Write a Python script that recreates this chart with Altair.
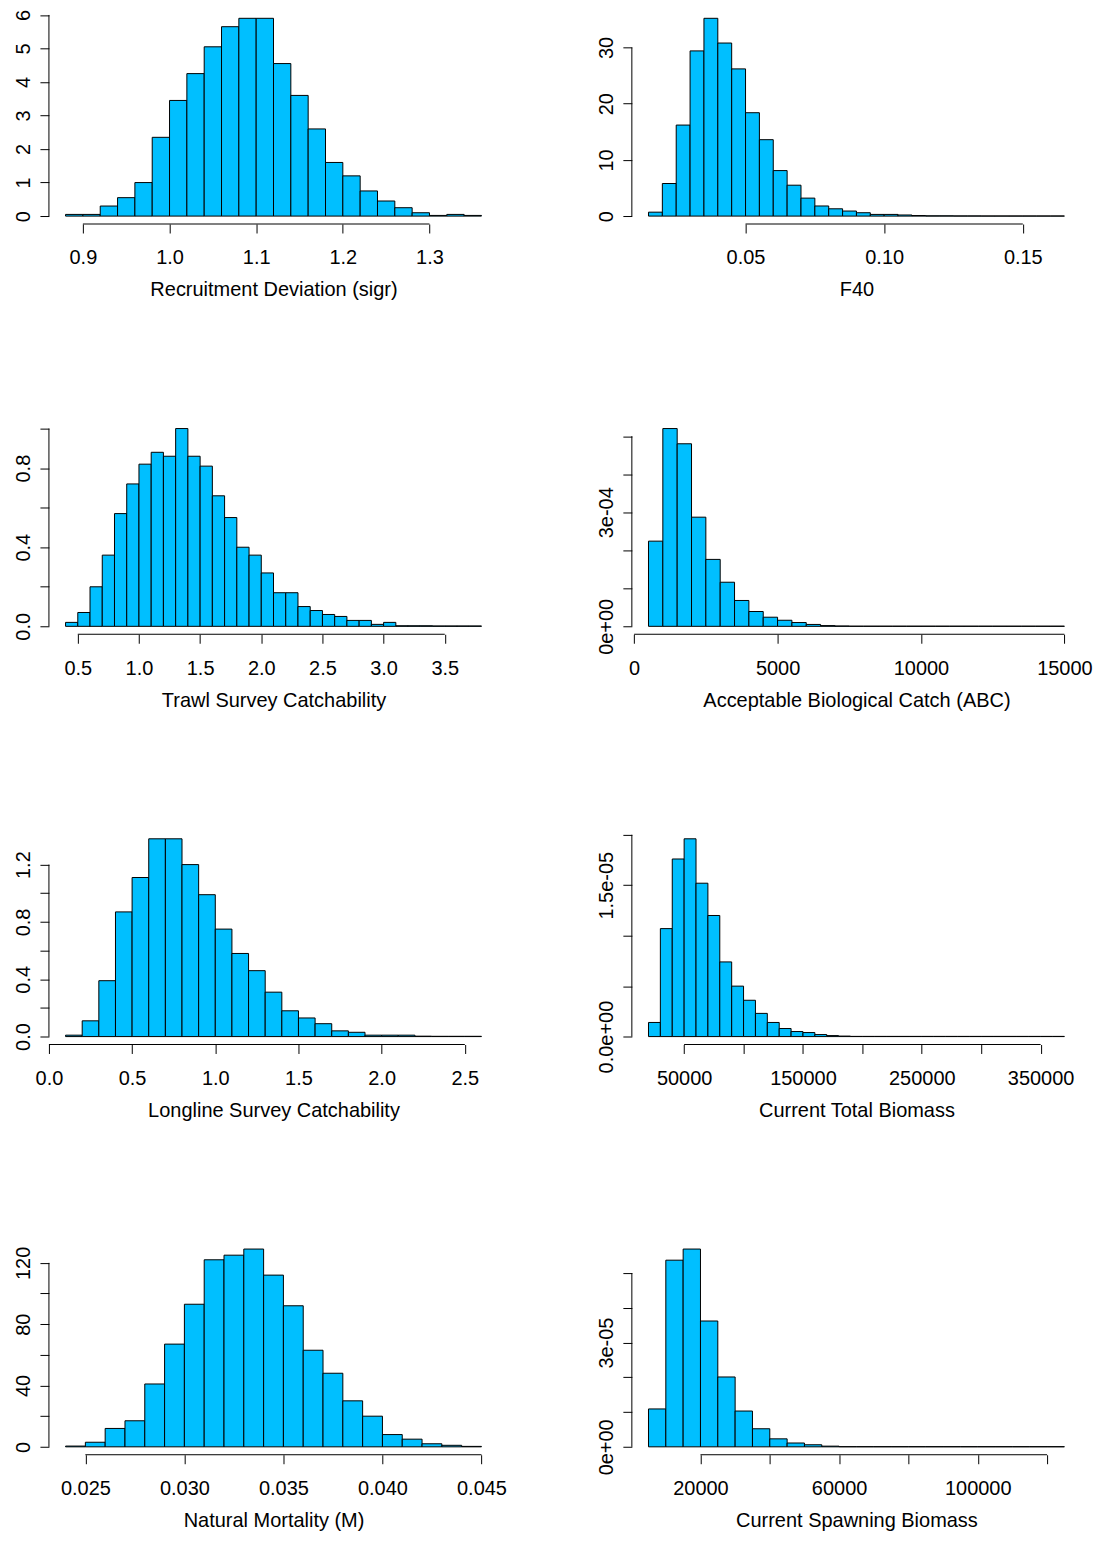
import altair as alt
import pandas as pd

# ---- data (bin start, bin width, heights) ----
p1_lo, p1_bw = 0.88, 0.02
p1_h = [0.05, 0.05, 0.3, 0.55, 1.0, 2.35, 3.45, 4.25, 5.05, 5.65, 5.9, 5.9, 4.55, 3.6, 2.6, 1.6,
        1.2, 0.75, 0.45, 0.25, 0.1, 0.02, 0.05, 0.02]
p2_lo, p2_bw = 0.015, 0.005
p2_h = [0.7, 5.8, 16.2, 29.4, 35.2, 30.8, 26.2, 18.4, 13.6, 8.1, 5.5, 3.2, 1.8, 1.3, 0.9, 0.6, 0.3,
        0.3, 0.2, 0.1, 0.05, 0.05, 0.03, 0.03, 0.02, 0.02, 0.02, 0.02, 0.02, 0.02]
p3_lo, p3_bw = 0.4, 0.1
p3_h = [0.02, 0.07, 0.2, 0.36, 0.57, 0.72, 0.82, 0.88, 0.86, 1.0, 0.86, 0.81, 0.66, 0.55, 0.4,
        0.36, 0.27, 0.17, 0.17, 0.1, 0.08, 0.06, 0.05, 0.03, 0.03, 0.01, 0.02, 0.003, 0.003,
        0.003, 0.002, 0.002, 0.002, 0.002]
p4_lo, p4_bw = 500, 500
p4_h = [2.24e-4, 5.2e-4, 4.8e-4, 2.87e-4, 1.76e-4, 1.16e-4, 0.68e-4, 0.39e-4, 0.24e-4, 0.16e-4,
        0.1e-4, 0.05e-4, 0.02e-4, 0.01e-4] + [0.005e-4] * 15
p5_lo, p5_bw = 0.1, 0.1
p5_h = [0.01, 0.11, 0.39, 0.87, 1.11, 1.38, 1.38, 1.2, 0.99, 0.75, 0.58, 0.46, 0.31, 0.18, 0.13,
        0.09, 0.04, 0.03, 0.01, 0.01, 0.01, 0.003, 0.002, 0.002, 0.002]
p6_lo, p6_bw = 20000, 10000
p6_h = [1.4e-6, 10.7e-6, 17.6e-6, 19.6e-6, 15.2e-6, 12.0e-6, 7.4e-6, 5.0e-6, 3.6e-6, 2.3e-6,
        1.4e-6, 0.8e-6, 0.5e-6, 0.4e-6, 0.2e-6, 0.1e-6, 0.05e-6] + [0.02e-6] * 18
p7_lo, p7_bw = 0.024, 0.001
p7_h = [0.5, 3, 12, 17, 41, 67, 93, 122, 125, 129, 112, 92, 63, 48, 30, 20, 8, 5, 2, 1, 0.3]
p8_lo, p8_bw = 5000, 5000
p8_h = [1.09e-5, 5.37e-5, 5.69e-5, 3.62e-5, 2.01e-5, 1.03e-5, 0.52e-5, 0.23e-5, 0.11e-5,
        0.06e-5, 0.02e-5] + [0.005e-5] * 13

FONT = "Liberation Sans"
FILL = "#00BFFF"
W, H = 450, 214


def expr(labels, step):
    e = "''"
    for v, t in labels.items():
        e = f"abs(datum.value-({v}))<{abs(step) * 0.01} ? '{t}' : " + e
    return e


def panel(lo, bw, heights, xticks, xlabels, yticks, ylabels, title):
    n = len(heights)
    starts = [round(lo + i * bw, 9) for i in range(n)]
    ends = [round(lo + (i + 1) * bw, 9) for i in range(n)]
    hi = ends[-1]
    df = pd.DataFrame({"start": starts, "end": ends, "h": heights})
    xr = hi - lo
    ymax = max(heights)
    xs = alt.Scale(domain=[lo - 0.04 * xr, hi + 0.04 * xr], nice=False, zero=False)
    ys = alt.Scale(domain=[-0.04 * ymax, 1.04 * ymax], nice=False, zero=False)
    xstep = xticks[1] - xticks[0]
    ystep = yticks[1] - yticks[0]
    xa = alt.Axis(values=xticks, labelExpr=expr(xlabels, xstep), domain=False, grid=False,
                  tickSize=9, tickColor="black", labelColor="black", labelFontSize=20,
                  labelFont=FONT, labelPadding=15, labelFlush=False, labelOverlap=False,
                  title=title, titleFont=FONT, titleFontSize=20, titleFontWeight="normal",
                  titleColor="black", titlePadding=12)
    ya = alt.Axis(values=yticks, labelExpr=expr(ylabels, ystep), domain=False, grid=False,
                  tickSize=9, tickColor="black", labelColor="black", labelFontSize=20,
                  labelFont=FONT, labelAngle=270, labelAlign="center", labelBaseline="bottom",
                  labelPadding=6, labelFlush=False, labelOverlap=False, title=None)
    bars = alt.Chart(df).mark_bar(fill=FILL, stroke="black", strokeWidth=1).encode(
        x=alt.X("start:Q", scale=xs, axis=xa), x2="end",
        y=alt.Y("h:Q", scale=ys, axis=ya), y2=alt.datum(0))
    rd = pd.DataFrame({"start": [xticks[0]], "end": [xticks[-1]], "h": [yticks[0]], "h2": [yticks[-1]]})
    xline = alt.Chart(rd).mark_rule(color="black", strokeWidth=1).encode(
        x=alt.X("start:Q", scale=xs, axis=xa), x2="end", y=alt.value(H))
    yline = alt.Chart(rd).mark_rule(color="black", strokeWidth=1).encode(
        y=alt.Y("h:Q", scale=ys, axis=ya), y2="h2", x=alt.value(0))
    return alt.layer(bars, xline, yline).properties(width=W, height=H)


def lab(vals, fmt):
    return {v: fmt(v) for v in vals}


c1 = panel(p1_lo, p1_bw, p1_h, [0.9, 1.0, 1.1, 1.2, 1.3], lab([0.9, 1.0, 1.1, 1.2, 1.3], lambda v: f"{v:.1f}"),
           [0, 1, 2, 3, 4, 5, 6], lab([0, 1, 2, 3, 4, 5, 6], str), "Recruitment Deviation (sigr)")
c2 = panel(p2_lo, p2_bw, p2_h, [0.05, 0.10, 0.15], lab([0.05, 0.10, 0.15], lambda v: f"{v:.2f}"),
           [0, 10, 20, 30], lab([0, 10, 20, 30], str), "F40")
c3 = panel(p3_lo, p3_bw, p3_h, [0.5, 1.0, 1.5, 2.0, 2.5, 3.0, 3.5],
           lab([0.5, 1.0, 1.5, 2.0, 2.5, 3.0, 3.5], lambda v: f"{v:.1f}"),
           [0, 0.2, 0.4, 0.6, 0.8, 1.0], {0: "0.0", 0.4: "0.4", 0.8: "0.8"}, "Trawl Survey Catchability")
c4 = panel(p4_lo, p4_bw, p4_h, [0, 5000, 10000, 15000], lab([0, 5000, 10000, 15000], str),
           [0, 1e-4, 2e-4, 3e-4, 4e-4, 5e-4], {0: "0e+00", 3e-4: "3e-04"},
           "Acceptable Biological Catch (ABC)")
c5 = panel(p5_lo, p5_bw, p5_h, [0.0, 0.5, 1.0, 1.5, 2.0, 2.5],
           lab([0.0, 0.5, 1.0, 1.5, 2.0, 2.5], lambda v: f"{v:.1f}"),
           [0, 0.2, 0.4, 0.6, 0.8, 1.0, 1.2], {0: "0.0", 0.4: "0.4", 0.8: "0.8", 1.2: "1.2"},
           "Longline Survey Catchability")
c6 = panel(p6_lo, p6_bw, p6_h, [50000, 100000, 150000, 200000, 250000, 300000, 350000],
           lab([50000, 150000, 250000, 350000], str),
           [0, 5e-6, 1e-5, 1.5e-5, 2e-5], {0: "0.0e+00", 1.5e-5: "1.5e-05"}, "Current Total Biomass")
c7 = panel(p7_lo, p7_bw, p7_h, [0.025, 0.030, 0.035, 0.040, 0.045],
           lab([0.025, 0.030, 0.035, 0.040, 0.045], lambda v: f"{v:.3f}"),
           [0, 20, 40, 60, 80, 100, 120], lab([0, 40, 80, 120], str), "Natural Mortality (M)")
c8 = panel(p8_lo, p8_bw, p8_h, [20000, 40000, 60000, 80000, 100000, 120000],
           lab([20000, 60000, 100000], str),
           [0, 1e-5, 2e-5, 3e-5, 4e-5, 5e-5], {0: "0e+00", 3e-5: "3e-05"}, "Current Spawning Biomass")

rows = [alt.hconcat(a, b, spacing=134, bounds="flush") for a, b in [(c1, c2), (c3, c4), (c5, c6), (c7, c8)]]
chart = alt.vconcat(*rows, spacing=121).properties(padding={"left": 5, "top": 0, "right": 5, "bottom": 5}).configure(
    font=FONT, background="white", view=alt.ViewConfig(stroke=None))

chart.save("out.html", embed_options={"renderer": "svg", "actions": False})
